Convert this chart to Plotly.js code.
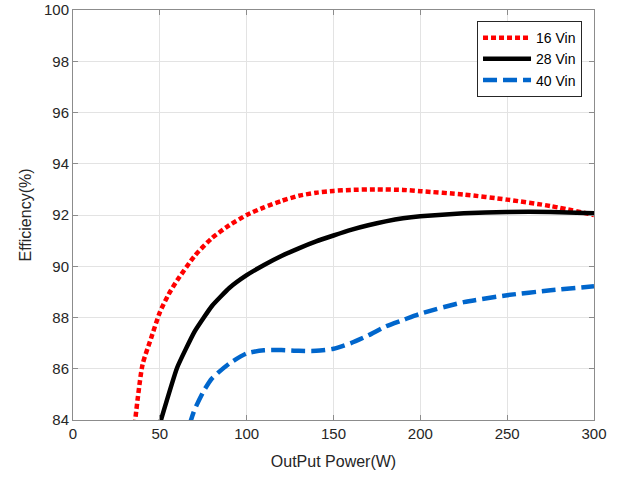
<!DOCTYPE html>
<html>
<head>
<meta charset="utf-8">
<script src="https://cdn.plot.ly/plotly-3.0.1.min.js"></script>
<style>html,body{margin:0;padding:0;background:#fff;}#chart{width:625px;height:477px;}</style>
</head>
<body>
<div id="chart"></div>
<script>
const seriesNames = ["16 Vin", "28 Vin", "40 Vin"];

const x16 = [35, 40, 45, 50, 55, 60, 70, 80, 90, 100, 110, 120, 130, 140, 150, 160, 175, 190, 200, 225, 250, 275, 300];
const y16 = [83.5, 86.15, 87.2, 88.2, 88.9, 89.45, 90.4, 91.1, 91.6, 92.0, 92.3, 92.55, 92.75, 92.87, 92.94, 92.98, 93.0, 92.98, 92.93, 92.8, 92.6, 92.35, 92.0];

const x28 = [50, 60, 70, 80, 90, 100, 110, 120, 130, 140, 150, 160, 170, 180, 190, 200, 225, 250, 275, 300];
const y28 = [83.85, 86.05, 87.45, 88.45, 89.15, 89.65, 90.05, 90.4, 90.7, 90.97, 91.2, 91.42, 91.6, 91.75, 91.87, 91.95, 92.07, 92.12, 92.12, 92.07];

const x40 = [67, 70, 75, 80, 90, 100, 110, 120, 130, 140, 150, 160, 170, 180, 190, 200, 225, 250, 275, 300];
const y40 = [83.8, 84.4, 85.1, 85.62, 86.2, 86.6, 86.72, 86.73, 86.7, 86.7, 86.78, 87.0, 87.3, 87.65, 87.9, 88.15, 88.6, 88.87, 89.06, 89.22];

const xTicks = [0, 50, 100, 150, 200, 250, 300];
const yTicks = [84, 86, 88, 90, 92, 94, 96, 98, 100];

const traces = [
  {x: x16, y: y16, name: seriesNames[0], mode: "lines",
   line: {color: "#ff0000", width: 4.5, dash: "5px,3px", shape: "spline", smoothing: 0.6}},
  {x: x28, y: y28, name: seriesNames[1], mode: "lines",
   line: {color: "#000000", width: 4.5, shape: "spline", smoothing: 0.4}},
  {x: x40, y: y40, name: seriesNames[2], mode: "lines",
   line: {color: "#0066cc", width: 4.5, dash: "14px,6px", shape: "spline", smoothing: 0.6}}
];

const axisCommon = {
  showline: true, linecolor: "#8c8c8c", linewidth: 1, mirror: "ticks",
  ticks: "inside", ticklen: 5, tickcolor: "#8c8c8c",
  showgrid: true, gridcolor: "#e3e3e3", gridwidth: 1, zeroline: false,
  tickfont: {family: "Liberation Sans, Arial, sans-serif", size: 15, color: "#262626"}
};

const layout = {
  width: 625, height: 477,
  margin: {l: 73, r: 31, t: 10, b: 57},
  paper_bgcolor: "#ffffff", plot_bgcolor: "#ffffff",
  showlegend: true,
  xaxis: Object.assign({}, axisCommon, {
    range: [0, 300], tickvals: xTicks, ticktext: xTicks.map(String),
    title: {text: "OutPut Power(W)", standoff: 14,
            font: {family: "Liberation Sans, Arial, sans-serif", size: 16, color: "#262626"}}
  }),
  yaxis: Object.assign({}, axisCommon, {
    range: [84, 100], tickvals: yTicks, ticktext: yTicks.map(String),
    title: {text: "Efficiency(%)", standoff: 8,
            font: {family: "Liberation Sans, Arial, sans-serif", size: 16, color: "#262626"}}
  }),
  legend: {
    x: 0.977, y: 0.973, xanchor: "right", yanchor: "top",
    bgcolor: "#ffffff", bordercolor: "#262626", borderwidth: 1,
    itemwidth: 48,
    font: {family: "Liberation Sans, Arial, sans-serif", size: 14, color: "#000000"},
    tracegroupgap: 0
  }
};

Plotly.newPlot("chart", traces, layout, {displayModeBar: false, staticPlot: true});
</script>
</body>
</html>
